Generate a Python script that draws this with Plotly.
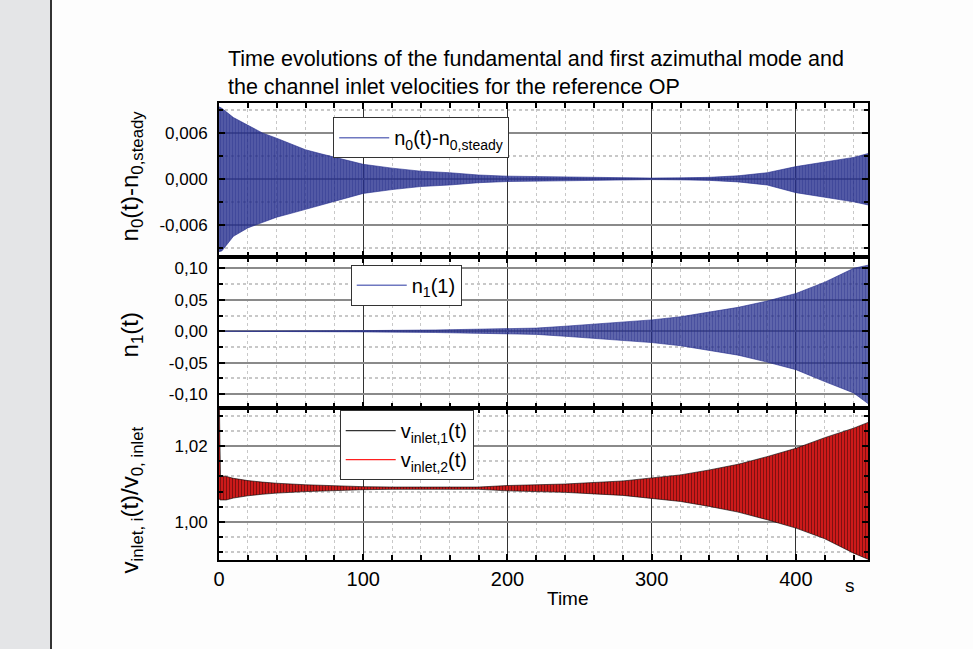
import plotly.graph_objects as go
from plotly.subplots import make_subplots

# ---- data (envelopes of the dense oscillations) ----
t_n0 = [0, 2, 10, 20, 30, 40, 50, 60, 70, 80, 90, 100, 120, 140, 160, 180, 200,
        220, 240, 260, 280, 300, 320, 340, 360, 380, 400, 420, 440, 450]
n0_upper = [0.0094, 0.0092, 0.0080, 0.0070, 0.0060, 0.0053, 0.0045, 0.0038, 0.0033,
            0.0028, 0.0023, 0.0019, 0.0014, 0.0010, 0.0008, 0.0005, 0.00035, 0.0003,
            0.0002, 0.00015, 0.0001, 0.0001, 0.00013, 0.0002, 0.0004, 0.0008, 0.0016,
            0.0022, 0.0028, 0.0033]
n0_lower = [-0.0095, -0.0094, -0.0075, -0.0064, -0.0057, -0.0050, -0.0045, -0.0040,
            -0.0035, -0.0030, -0.0024, -0.0019, -0.0014, -0.0010, -0.0008, -0.0005,
            -0.00035, -0.0003, -0.0002, -0.00015, -0.0001, -0.0001, -0.00013, -0.0002,
            -0.0004, -0.0008, -0.0018, -0.0024, -0.0030, -0.0034]

t_n1 = [0, 60, 100, 150, 200, 220, 240, 260, 280, 300, 320, 340, 360, 380, 400, 420, 440, 450]
n1_upper = [0, 0.0003, 0.001, 0.002, 0.004, 0.005, 0.008, 0.011, 0.015, 0.018, 0.023,
            0.030, 0.038, 0.048, 0.060, 0.078, 0.100, 0.105]
n1_lower = [0, -0.0003, -0.001, -0.002, -0.004, -0.005, -0.008, -0.011, -0.015, -0.018,
            -0.023, -0.030, -0.038, -0.049, -0.061, -0.080, -0.098, -0.115]

t_v = [0, 0.3, 1, 5, 10, 20, 30, 40, 60, 80, 100, 120, 140, 160, 180, 200, 220, 240,
       260, 280, 300, 320, 340, 360, 380, 400, 420, 440, 450]
v_upper = [1.0300, 1.0300, 1.0122, 1.0120, 1.0115, 1.0109, 1.0105, 1.0102, 1.0098,
           1.0095, 1.0093, 1.0092, 1.0092, 1.0091, 1.0092, 1.0096, 1.0098, 1.0100,
           1.0104, 1.0108, 1.0116, 1.0124, 1.0137, 1.0152, 1.0172, 1.0194, 1.0222,
           1.0247, 1.0262]
v_lower = [1.0060, 1.0060, 1.0058, 1.0058, 1.0063, 1.0069, 1.0073, 1.0076, 1.0080,
           1.0083, 1.0085, 1.0086, 1.0086, 1.0087, 1.0086, 1.0082, 1.0080, 1.0078,
           1.0074, 1.0070, 1.0062, 1.0054, 1.0041, 1.0026, 1.0006, 0.9984, 0.9956,
           0.9918, 0.9902]

n0_ticks = [-0.006, 0.0, 0.006]
n0_ticklabels = ["-0,006", "0,000", "0,006"]
n1_ticks = [-0.10, -0.05, 0.0, 0.05, 0.10]
n1_ticklabels = ["-0,10", "-0,05", "0,00", "0,05", "0,10"]
v_ticks = [1.00, 1.02]
v_ticklabels = ["1,00", "1,02"]
time_ticks = [0, 100, 200, 300, 400]

NAVY = "#232c8c"
RED = "#ff2020"

fig = make_subplots(rows=3, cols=1, shared_xaxes=True, vertical_spacing=0)


def band(t, lo, hi, row, color, bg, solidity, size):
    fig.add_trace(go.Scatter(x=t, y=lo, mode="lines", line=dict(color=color, width=0.6),
                             showlegend=False, hoverinfo="skip"), row=row, col=1)
    fig.add_trace(go.Scatter(x=t, y=hi, mode="lines", line=dict(color=color, width=0.6),
                             fill="tonexty", fillcolor=bg,
                             fillpattern=dict(shape="|", fgcolor=color, bgcolor=bg,
                                              size=size, solidity=solidity),
                             showlegend=False, hoverinfo="skip"), row=row, col=1)


band(t_n0, n0_lower, n0_upper, 1, NAVY, "rgba(35,44,140,0.72)", 0.65, 3)
band(t_n1, n1_lower, n1_upper, 2, NAVY, "rgba(35,44,140,0.65)", 0.65, 3)
band(t_v, v_lower, v_upper, 3, "#000000", RED, 0.6, 3)

# legend-only entries
fig.add_trace(go.Scatter(x=[None], y=[None], mode="lines", line=dict(color="#6f78c0", width=1.5),
                         name="n<sub>0</sub>(t)-n<sub>0,steady</sub>", legend="legend"), row=1, col=1)
fig.add_trace(go.Scatter(x=[None], y=[None], mode="lines", line=dict(color="#6f78c0", width=1.5),
                         name="n<sub>1</sub>(1)", legend="legend2"), row=2, col=1)
fig.add_trace(go.Scatter(x=[None], y=[None], mode="lines", line=dict(color="#333333", width=1.2),
                         name="v<sub>inlet,1</sub>(t)", legend="legend3"), row=3, col=1)
fig.add_trace(go.Scatter(x=[None], y=[None], mode="lines", line=dict(color=RED, width=1.2),
                         name="v<sub>inlet,2</sub>(t)", legend="legend3"), row=3, col=1)

legend_style = dict(bgcolor="white", bordercolor="#333333", borderwidth=1,
                    font=dict(family="Liberation Sans, Arial", size=20, color="black"),
                    xanchor="left", yanchor="top", itemwidth=50, tracegroupgap=0)

fig.update_layout(
    width=973, height=649,
    margin=dict(l=219, r=105, t=103, b=89),
    paper_bgcolor="#fdfdfd", plot_bgcolor="white",
    separators=",.",
    font=dict(family="Liberation Sans, Arial", color="black"),
    showlegend=True,
    title=dict(text="Time evolutions of the fundamental and first azimuthal mode and<br>"
                    "the channel inlet velocities for the reference OP",
               x=228 / 973, xanchor="left", y=1 - 66 / 649, yanchor="top",
               font=dict(size=21.5, color="black")),
    legend=dict(x=0.176, y=0.969, **legend_style),
    legend2=dict(x=0.203, y=0.646, **legend_style),
    legend3=dict(x=0.186, y=0.328, **legend_style),
)

# panel domains
fig.update_layout(
    yaxis=dict(domain=[0.663, 1.0]),
    yaxis2=dict(domain=[0.3326, 0.663]),
    yaxis3=dict(domain=[0.0, 0.3326]),
)

axis_common = dict(showline=True, linecolor="black", linewidth=2, mirror="allticks",
                   ticks="inside", ticklen=6, tickwidth=2, tickcolor="black", zeroline=False)

fig.update_xaxes(range=[0, 450], tickvals=time_ticks, showgrid=True, gridcolor="#333333",
                 gridwidth=1,
                 minor=dict(dtick=20, tick0=0, ticks="inside", ticklen=5, tickwidth=1.5,
                            tickcolor="black", showgrid=True, gridcolor="#c8c8c8",
                            griddash="dot", gridwidth=1),
                 **axis_common)
fig.update_xaxes(showticklabels=False, row=1, col=1)
fig.update_xaxes(showticklabels=False, row=2, col=1)
fig.update_xaxes(showticklabels=True, tickfont=dict(size=20), row=3, col=1)

y_common = dict(showgrid=True, gridcolor="#8a8a8a", gridwidth=2, tickfont=dict(size=17),
                ticklabelstandoff=6)
fig.update_yaxes(range=[-0.0102, 0.0099], tickvals=n0_ticks, ticktext=n0_ticklabels,
                 minor=dict(dtick=0.003, tick0=0, ticks="inside", ticklen=4, tickcolor="black",
                            showgrid=True, gridcolor="#c8c8c8", griddash="dot"),
                 row=1, col=1, **y_common, **axis_common)
fig.update_yaxes(range=[-0.122, 0.118], tickvals=n1_ticks, ticktext=n1_ticklabels,
                 minor=dict(dtick=0.025, tick0=0, ticks="inside", ticklen=4, tickcolor="black",
                            showgrid=True, gridcolor="#c8c8c8", griddash="dot"),
                 row=2, col=1, **y_common, **axis_common)
fig.update_yaxes(range=[0.99, 1.03], tickvals=v_ticks, ticktext=v_ticklabels,
                 minor=dict(dtick=0.004, tick0=1.0, ticks="inside", ticklen=4, tickcolor="black",
                            showgrid=True, gridcolor="#c8c8c8", griddash="dot"),
                 row=3, col=1, **y_common, **axis_common)

# axis titles as annotations (Origin-like placement)
ytitle = dict(xref="paper", yref="paper", textangle=-90, showarrow=False,
              font=dict(size=24, color="black"), xanchor="center", yanchor="middle")
fig.add_annotation(text="n<sub>0</sub>(t)-n<sub>0,steady</sub>", x=-0.135, y=(560 - 176) / 457, **ytitle)
fig.add_annotation(text="n<sub>1</sub>(t)", x=-0.135, y=(560 - 335) / 457, **ytitle)
fig.add_annotation(text="v<sub>inlet, i</sub>(t)/v<sub>0, inlet</sub>", x=-0.135, y=(560 - 500) / 457, **ytitle)
fig.add_annotation(text="Time", x=(568 - 219) / 649, y=-(598 - 560) / 457, xref="paper", yref="paper",
                   xanchor="center", yanchor="middle",
                   showarrow=False, font=dict(size=19, color="black"))
fig.add_annotation(text="s", x=(850 - 219) / 649, y=-(585 - 560) / 457, xref="paper", yref="paper",
                   xanchor="center", yanchor="middle",
                   showarrow=False, font=dict(size=19, color="black"))

# page decoration: grey strip at the left
fig.add_shape(type="rect", xref="paper", yref="paper", x0=-219 / 649, x1=-168 / 649,
              y0=-89 / 457, y1=1 + 103 / 457, fillcolor="#e4e5e7", line_width=0, layer="below")
fig.add_shape(type="line", xref="paper", yref="paper", x0=-168 / 649, x1=-168 / 649,
              y0=-89 / 457, y1=1 + 103 / 457, line=dict(color="#333333", width=2))

fig.write_html("out.html", config={"displayModeBar": False},
               post_script="document.body.style.margin='0';")
